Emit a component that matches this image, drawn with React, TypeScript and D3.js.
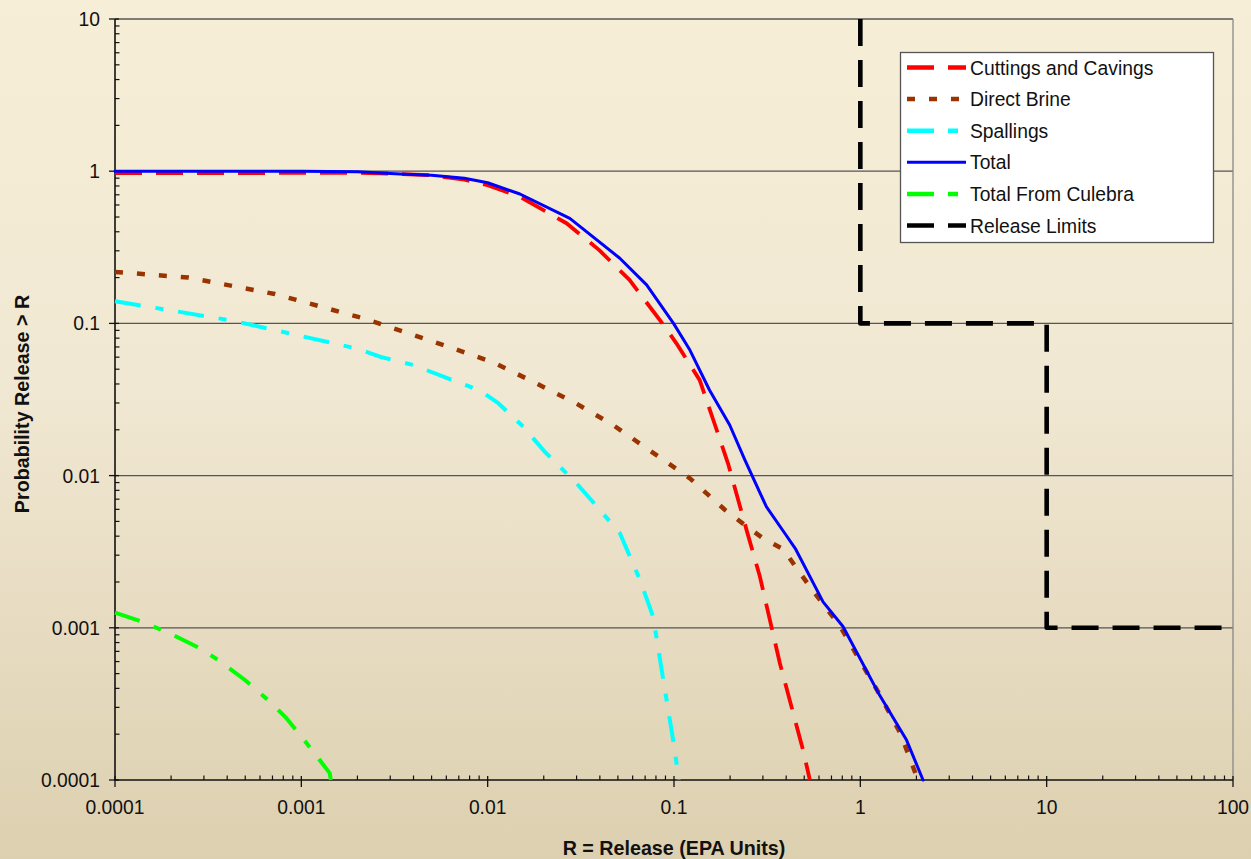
import React, { useEffect, useRef } from 'react';
import * as d3 from 'd3';

// Complementary cumulative distributions
const cuttingsX = [0.0001, 0.0003, 0.001, 0.002, 0.003, 0.005, 0.0075, 0.01, 0.0149, 0.0265, 0.0397, 0.0577, 0.0866, 0.103, 0.1374, 0.166, 0.195, 0.245, 0.289, 0.37, 0.493, 0.536];
const cuttingsY = [0.97, 0.97, 0.975, 0.975, 0.965, 0.94, 0.88, 0.81, 0.68, 0.455, 0.303, 0.193, 0.1, 0.074, 0.0424, 0.0215, 0.012, 0.0044, 0.00217, 0.000585, 0.000157, 0.0001];

const brineX = [0.0001, 0.000247, 0.000721, 0.00215, 0.00367, 0.00613, 0.0107, 0.0175, 0.0294, 0.0471, 0.1217, 0.188, 0.24, 0.301, 0.386, 0.536, 0.78, 1.23, 1.64, 2.04];
const brineY = [0.218, 0.2, 0.156, 0.108, 0.0869, 0.0703, 0.0555, 0.0414, 0.0301, 0.0215, 0.0096, 0.00594, 0.00473, 0.00387, 0.00328, 0.00186, 0.00102, 0.00039, 0.000203, 0.0001];

const spallX = [0.0001, 0.000431, 0.000944, 0.00206, 0.00264, 0.00398, 0.00803, 0.00927, 0.0114, 0.0155, 0.0203, 0.03, 0.0512, 0.0657, 0.0773, 0.0894, 0.101, 0.106];
const spallY = [0.14, 0.104, 0.0839, 0.0676, 0.0604, 0.0533, 0.0384, 0.0356, 0.0299, 0.021, 0.0143, 0.0089, 0.0042, 0.00206, 0.00118, 0.00039, 0.000157, 0.0001];

const totalX = [0.0001, 0.0003, 0.001, 0.002, 0.00338, 0.005, 0.0075, 0.01, 0.0149, 0.0276, 0.0512, 0.0713, 0.0994, 0.1217, 0.155, 0.199, 0.24, 0.313, 0.393, 0.447, 0.631, 0.807, 1.27, 1.77, 2.17];
const totalY = [1.0, 1.0, 1.0, 0.99, 0.96, 0.94, 0.9, 0.84, 0.708, 0.49, 0.268, 0.179, 0.1, 0.0668, 0.0365, 0.0215, 0.0127, 0.00625, 0.00418, 0.00333, 0.00148, 0.00102, 0.00036, 0.000183, 0.0001];

const culebraX = [0.0001, 0.000136, 0.000197, 0.000286, 0.000358, 0.000498, 0.000679, 0.000834, 0.00107, 0.00142, 0.00144];
const culebraY = [0.00126, 0.00111, 0.00092, 0.000733, 0.000614, 0.000454, 0.000327, 0.000254, 0.000174, 0.000111, 0.0001];

const limitsX = [1, 1, 10, 10, 100];
const limitsY = [10, 0.1, 0.1, 0.001, 0.001];

const xTicks = [0.0001, 0.001, 0.01, 0.1, 1, 10, 100];
const xTickLabels = ['0.0001', '0.001', '0.01', '0.1', '1', '10', '100'];
const yTicks = [0.0001, 0.001, 0.01, 0.1, 1, 10];
const yTickLabels = ['0.0001', '0.001', '0.01', '0.1', '1', '10'];

const seriesNames = ['Cuttings and Cavings', 'Direct Brine', 'Spallings', 'Total', 'Total From Culebra', 'Release Limits'];

const W = 1251;
const H = 859;
const FONT = 'Arial, "Liberation Sans", sans-serif';
const FS = '19.3px';

export default function App() {
  const svgRef = useRef<SVGSVGElement>(null);

  useEffect(() => {
    if (!svgRef.current) return;
    const svg = d3.select(svgRef.current);
    svg.selectAll('*').remove();

    // background gradient
    const defs = svg.append('defs');
    const grad = defs.append('linearGradient').attr('id', 'bg').attr('x1', 0).attr('y1', 0).attr('x2', 0).attr('y2', 1);
    grad.append('stop').attr('offset', '0%').attr('stop-color', '#f7eed7');
    grad.append('stop').attr('offset', '45%').attr('stop-color', '#f1e8d3');
    grad.append('stop').attr('offset', '100%').attr('stop-color', '#ddd0b0');
    svg.append('rect').attr('width', W).attr('height', H).attr('fill', 'url(#bg)');

    const x = d3.scaleLog().domain([1e-4, 100]).range([115, 1233]);
    const y = d3.scaleLog().domain([1e-4, 10]).range([780, 19]);

    const g = svg.append('g');

    // gridlines
    g.selectAll('.grid')
      .data(yTicks.slice(1))
      .enter()
      .append('line')
      .attr('x1', 115)
      .attr('x2', 1233)
      .attr('y1', d => y(d))
      .attr('y2', d => y(d))
      .attr('stroke', '#555')
      .attr('stroke-width', 1.3);

    // right border
    g.append('line').attr('x1', 1233).attr('x2', 1233).attr('y1', 19).attr('y2', 780)
      .attr('stroke', '#888').attr('stroke-width', 1.3);

    // minor ticks
    const minors = (dom: number[]) => {
      const out: number[] = [];
      for (let e = Math.log10(dom[0]); e < Math.log10(dom[1]); e++) {
        for (let k = 2; k <= 9; k++) out.push(k * Math.pow(10, e));
      }
      return out;
    };
    g.selectAll('.xminor').data(minors([1e-4, 100])).enter().append('line')
      .attr('x1', d => x(d)).attr('x2', d => x(d)).attr('y1', 780).attr('y2', 775.5)
      .attr('stroke', '#111').attr('stroke-width', 1.2);
    g.selectAll('.yminor').data(minors([1e-4, 10])).enter().append('line')
      .attr('x1', 115).attr('x2', 119.5).attr('y1', d => y(d)).attr('y2', d => y(d))
      .attr('stroke', '#111').attr('stroke-width', 1.2);

    // major ticks
    g.selectAll('.xmajor').data(xTicks).enter().append('line')
      .attr('x1', d => x(d)).attr('x2', d => x(d)).attr('y1', 776).attr('y2', 787)
      .attr('stroke', '#111').attr('stroke-width', 1.3);
    g.selectAll('.ymajor').data(yTicks).enter().append('line')
      .attr('x1', 109).attr('x2', 119).attr('y1', d => y(d)).attr('y2', d => y(d))
      .attr('stroke', '#111').attr('stroke-width', 1.3);

    // axes lines
    g.append('line').attr('x1', 115).attr('x2', 115).attr('y1', 19).attr('y2', 781)
      .attr('stroke', '#111').attr('stroke-width', 1.6);
    g.append('line').attr('x1', 114).attr('x2', 1233).attr('y1', 780).attr('y2', 780)
      .attr('stroke', '#111').attr('stroke-width', 1.6);

    // tick labels
    g.selectAll('.xlab').data(xTicks).enter().append('text')
      .attr('x', d => x(d)).attr('y', 814)
      .attr('text-anchor', 'middle')
      .style('font-family', FONT).style('font-size', FS).attr('fill', '#111')
      .text((d, i) => xTickLabels[i]);
    g.selectAll('.ylab').data(yTicks).enter().append('text')
      .attr('x', 100).attr('y', d => y(d) + 7)
      .attr('text-anchor', 'end')
      .style('font-family', FONT).style('font-size', FS).attr('fill', '#111')
      .text((d, i) => yTickLabels[i]);

    // axis titles
    svg.append('text').attr('x', 674).attr('y', 855).attr('text-anchor', 'middle')
      .style('font-family', FONT).style('font-size', '19.7px').style('font-weight', 'bold').attr('fill', '#111')
      .text('R = Release (EPA Units)');
    svg.append('text').attr('transform', 'translate(29,404) rotate(-90)').attr('text-anchor', 'middle')
      .style('font-family', FONT).style('font-size', '19.7px').style('font-weight', 'bold').attr('fill', '#111')
      .text('Probability Release > R');

    const line = d3.line<[number, number]>().x(d => x(d[0])).y(d => y(d[1]));
    const zip = (xs: number[], ys: number[]) => xs.map((v, i) => [v, ys[i]] as [number, number]);

    const series = [
      { xs: cuttingsX, ys: cuttingsY, color: '#ff0000', width: 3.8, dash: '27,14', cap: 'butt' },
      { xs: brineX, ys: brineY, color: '#993300', width: 4.5, dash: '8,14', cap: 'butt' },
      { xs: spallX, ys: spallY, color: '#00ffff', width: 4, dash: '26,15,8,15', cap: 'butt' },
      { xs: totalX, ys: totalY, color: '#0000ff', width: 3, dash: null, cap: 'round' },
      { xs: culebraX, ys: culebraY, color: '#00ff00', width: 4, dash: '26,15,8,15', cap: 'butt' },
      { xs: limitsX, ys: limitsY, color: '#000000', width: 4.6, dash: '27,14', cap: 'butt' }
    ];
    const drawOrder = [4, 2, 1, 0, 3, 5];
    drawOrder.forEach(i => {
      const s = series[i];
      g.append('path')
        .attr('d', line(zip(s.xs, s.ys)))
        .attr('fill', 'none')
        .attr('stroke', s.color)
        .attr('stroke-width', s.width)
        .attr('stroke-dasharray', s.dash)
        .attr('stroke-linecap', s.cap)
        .attr('stroke-linejoin', 'round');
    });

    // legend
    const lg = svg.append('g');
    lg.append('rect').attr('x', 900.5).attr('y', 52.5).attr('width', 313).attr('height', 190)
      .attr('fill', '#fff').attr('stroke', '#555').attr('stroke-width', 1.3);
    series.forEach((s, i) => {
      const cy = 67.5 + i * 31.6;
      lg.append('line').attr('x1', 907).attr('x2', 966).attr('y1', cy).attr('y2', cy)
        .attr('stroke', s.color).attr('stroke-width', i === 3 ? 3 : 4.5)
        .attr('stroke-dasharray', i === 2 || i === 4 ? '27,14,10,14' : s.dash);
      lg.append('text').attr('x', 970).attr('y', cy + 7)
        .style('font-family', FONT).style('font-size', FS).attr('fill', '#111')
        .text(seriesNames[i]);
    });
  }, []);

  return (
    <div style={{ position: 'absolute', left: 0, top: 0, width: W, height: H }}>
      <svg ref={svgRef} width={W} height={H} />
    </div>
  );
}
